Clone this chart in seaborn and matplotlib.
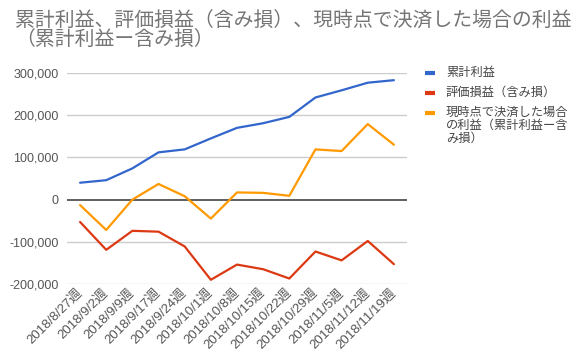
import numpy as np
import pandas as pd
import matplotlib
matplotlib.use("Agg")
import matplotlib.pyplot as plt
from matplotlib.lines import Line2D
import seaborn as sns

weeks = ["2018/8/27週", "2018/9/2週", "2018/9/9週", "2018/9/17週", "2018/9/24週",
         "2018/10/1週", "2018/10/8週", "2018/10/15週", "2018/10/22週", "2018/10/29週",
         "2018/11/5週", "2018/11/12週", "2018/11/19週"]
cumulative = [40000, 46000, 74000, 112000, 119000, 145000, 170000, 181000, 196000,
              242000, 259000, 277000, 283000]
unrealized = [-53000, -119000, -74000, -76000, -111000, -190000, -154000, -165000,
              -187000, -123000, -144000, -98000, -153000]
settled = [-13000, -72000, 0, 37000, 8000, -45000, 17000, 16000, 9000,
           119000, 115000, 179000, 130000]
series_names = ["累計利益", "評価損益（含み損）", "現時点で決済した場合の利益（累計利益ー含み損）"]
legend_labels = ["累計利益", "評価損益（含み損）", "現時点で決済した場合\nの利益（累計利益ー含\nみ損）"]
colors = ["#3366cc", "#dc3912", "#ff9900"]
yticks = [-200000, -100000, 0, 100000, 200000, 300000]
title = "累計利益、評価損益（含み損）、現時点で決済した場合の利益\n（累計利益ー含み損）"

sns.set_theme(style="white")
plt.rcParams["font.family"] = ["Liberation Sans", "Noto Sans CJK JP", "DejaVu Sans"]

pos = np.arange(len(weeks))
df = pd.DataFrame({
    "pos": np.concatenate([pos, pos, pos]),
    "value": cumulative + unrealized + settled,
    "series": np.repeat(series_names, len(weeks)),
})

fig = plt.figure(figsize=(5.86, 3.64), dpi=100)
ax = fig.add_axes([67 / 586, 1 - 284 / 364, 340 / 586, 211 / 364])

for v in yticks:
    if v == 0:
        continue
    ax.axhline(v, color="#cccccc", lw=1, zorder=0)

sns.lineplot(data=df, x="pos", y="value", hue="series", palette=colors,
             hue_order=series_names, sort=False, lw=1.6, ax=ax, legend=False, zorder=3)
ax.axhline(0, color="#333333", lw=1.1, zorder=2)

ax.set_xlim(-0.5, len(weeks) - 0.5)
ax.set_ylim(-200000, 300000)
ax.set_yticks(yticks)
ax.set_yticklabels([f"{v:,}" for v in yticks])
ax.set_xticks(pos)
ax.set_xticklabels(weeks, rotation=45, ha="right", va="center", rotation_mode="anchor")
ax.tick_params(axis="x", length=0, pad=5, labelsize=9.5, labelcolor="#555555")
ax.tick_params(axis="y", length=0, pad=6, labelsize=9, labelcolor="#555555")
ax.set_xlabel("")
ax.set_ylabel("")
for s in ax.spines.values():
    s.set_visible(False)

fig.text(15 / 586, 1 - 10 / 364, title, ha="left", va="top", fontsize=14.3,
         color="#757575", linespacing=0.9,
         family=["Noto Sans CJK JP", "DejaVu Sans"])

# legend
rows_y = [73, 93, 113]
for lab, col, y in zip(legend_labels, colors, rows_y):
    fig.add_artist(Line2D([425 / 586, 435 / 586], [1 - y / 364, 1 - y / 364],
                          color=col, lw=3, solid_capstyle="butt"))
    fig.text(446 / 586, 1 - (y - 7) / 364, lab, ha="left", va="top", fontsize=8.8,
             color="#444444", linespacing=1.0,
             family=["Noto Sans CJK JP", "DejaVu Sans"])

fig.savefig("out.png", dpi=100)
